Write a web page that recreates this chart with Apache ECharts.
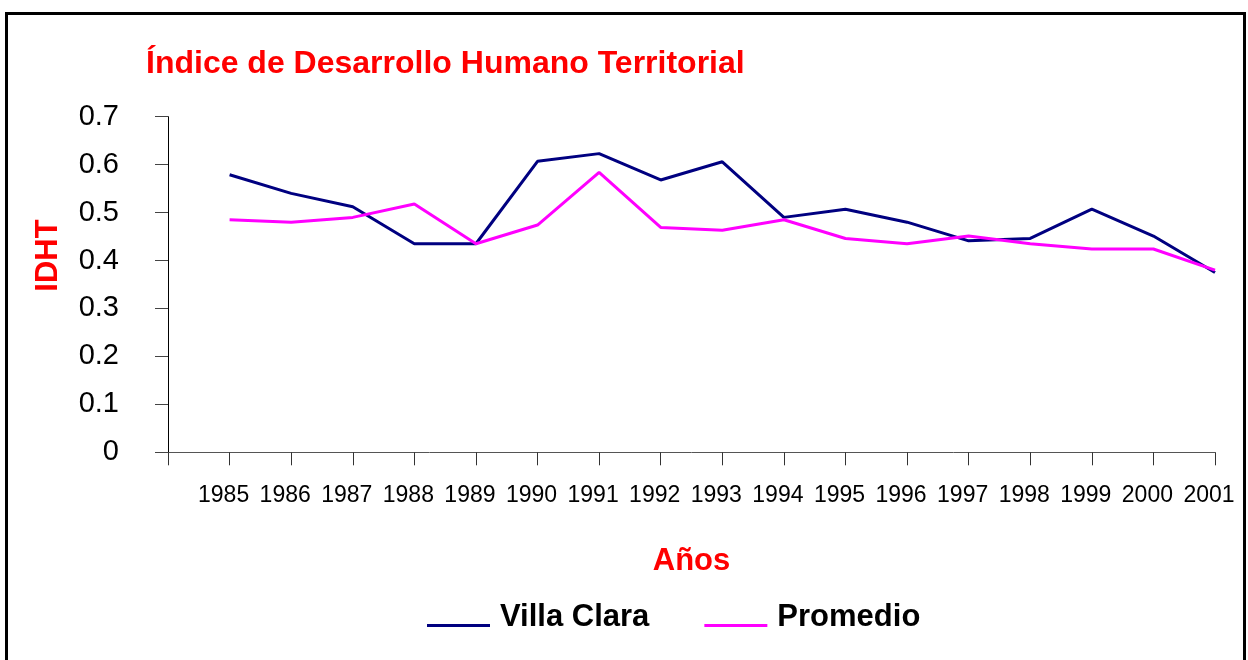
<!DOCTYPE html>
<html>
<head>
<meta charset="utf-8">
<script src="https://cdn.jsdelivr.net/npm/echarts@6/dist/echarts.min.js"></script>
<style>html,body{margin:0;padding:0;background:#fff;}#c{width:1248px;height:660px;}</style>
</head>
<body>
<div id="c"></div>
<script>
var years = [1985,1986,1987,1988,1989,1990,1991,1992,1993,1994,1995,1996,1997,1998,1999,2000,2001];
var villaClara = [0.579,0.540,0.512,0.435,0.435,0.607,0.623,0.568,0.606,0.490,0.507,0.480,0.441,0.446,0.507,0.451,0.375];
var promedio = [0.485,0.480,0.490,0.518,0.435,0.474,0.584,0.469,0.463,0.485,0.446,0.435,0.451,0.435,0.424,0.424,0.380];
var seriesNames = ['Villa Clara','Promedio'];
var titleText = 'Índice de Desarrollo Humano Territorial';
var xName = 'Años';
var yName = 'IDHT';

function pairs(vals){ return years.map(function(y,i){ return [y, vals[i]]; }); }

var chart = echarts.init(document.getElementById('c'));
var F = 'Liberation Sans, Arial, sans-serif';
chart.setOption({
  animation:false,
  backgroundColor:'#fff',
  title:{text:titleText,left:141,top:43,textStyle:{color:'#ff0000',fontSize:32,fontWeight:'bold',fontFamily:F}},
  graphic:[{type:'rect',shape:{x:6.5,y:13.5,width:1238,height:700},style:{fill:'none',stroke:'#000',lineWidth:3},silent:true}],
  grid:{left:168,right:33,top:116.7,bottom:207.7},
  legend:{left:427,top:602,padding:0,icon:'path://M0,0 M0,16 L63,16 L63,19 L0,19 Z',itemWidth:63,itemHeight:19,itemGap:55,
    textStyle:{fontSize:31,fontWeight:'bold',color:'#000',fontFamily:F,padding:[0,0,0,5]},
    data:seriesNames},
  xAxis:{type:'value',min:1984,max:2001,interval:1,
    name:xName,nameLocation:'middle',nameGap:94,
    nameTextStyle:{color:'#ff0000',fontSize:31,fontWeight:'bold',fontFamily:F},
    axisLine:{lineStyle:{color:'#555',width:1}},
    axisTick:{show:true,length:13,lineStyle:{color:'#333'}},
    axisLabel:{margin:32,fontSize:23,color:'#000',fontFamily:F,padding:[0,12,0,0],
      formatter:function(v){return v===1984?'':String(v);}},
    splitLine:{show:false}},
  yAxis:{type:'value',min:0,max:0.7,interval:0.1,
    name:yName,nameLocation:'middle',nameGap:104,nameRotate:90,
    nameTextStyle:{color:'#ff0000',fontSize:31,fontWeight:'bold',fontFamily:F,padding:[0,0,0,58]},
    axisLine:{show:true,lineStyle:{color:'#000',width:1}},
    axisTick:{show:true,length:13,lineStyle:{color:'#444'}},
    axisLabel:{margin:49,fontSize:29,color:'#000',fontFamily:F},
    splitLine:{show:false}},
  series:[
    {name:seriesNames[0],type:'line',data:pairs(villaClara),showSymbol:false,symbol:'none',
     lineStyle:{color:'#000080',width:3},itemStyle:{color:'#000080'}},
    {name:seriesNames[1],type:'line',data:pairs(promedio),showSymbol:false,symbol:'none',
     lineStyle:{color:'#ff00ff',width:3},itemStyle:{color:'#ff00ff'}}
  ]
});
</script>
</body>
</html>
